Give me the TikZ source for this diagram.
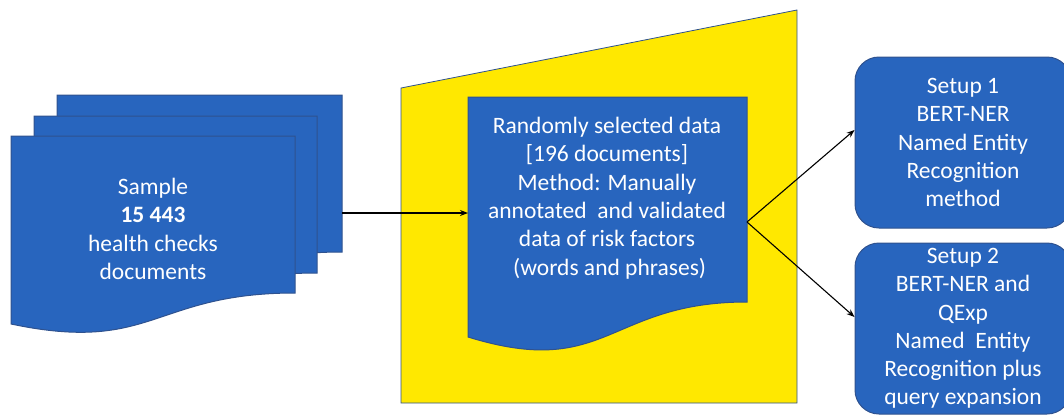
\documentclass[tikz,border=0pt]{standalone}
\usepackage{fontspec}
\setmainfont{Carlito}
\usetikzlibrary{arrows.meta}
\definecolor{docblue}{RGB}{40,101,190}
\definecolor{edgeblue}{RGB}{47,82,143}
\definecolor{ylw}{RGB}{255,232,0}
\begin{document}
\begin{tikzpicture}[x=1pt,y=-1pt,
  docfill/.style={fill=docblue,draw=edgeblue,line width=1pt},
  txt/.style={text=white,align=center,font=\fontsize{23.5}{28.3}\selectfont,inner sep=0pt},
  setupbox/.style={docfill,rounded corners=24pt,minimum width=216pt,minimum height=171pt,text=white,align=center,font=\fontsize{23.5}{28.3}\selectfont,inner sep=0pt},
  conn/.style={-{Stealth[length=8pt,width=6pt]},line width=1.1pt,black}]
\useasboundingbox (0,0) rectangle (1064,416);
\clip (0,0) rectangle (1064,416);
% stack of documents
\draw[docfill] (57,95) -- (342,95) -- (342,252) .. controls (199.5,252) and (199.5,313) .. (57,283) -- cycle;
\draw[docfill] (34,116) -- (317,116) -- (317,273) .. controls (175.5,273) and (175.5,334) .. (34,304) -- cycle;
\draw[docfill] (11,136) -- (295,136) -- (295,293) .. controls (153,293) and (153,354) .. (11,324) -- cycle;
\node[txt] (sampletxt) at (153,229) {Sample\\\textbf{15 443}\\health checks\\documents};
% yellow panel
\draw[fill=ylw,draw=edgeblue,line width=0.8pt] (401,88) -- (797,10) -- (797,403) -- (401,403) -- cycle;
% middle document
\draw[docfill] (468,97) -- (747,97) -- (747,302) .. controls (607.5,302) and (607.5,380) .. (468,337) -- cycle;
\node[txt] (randtxt) at (607,198) {Randomly selected data\\{[}196 documents{]}\\Method: Manually\\annotated\ \ and validated\\data of risk factors\\\ (words and phrases)};
% setup boxes
\node[setupbox] (s1) at (963,142.5) {Setup 1\\BERT-NER\\Named Entity\\Recognition\\method};
\node[setupbox] (s2) at (963,328.5) {Setup 2\\BERT-NER and\\QExp\\Named\ \ Entity\\Recognition plus\\query expansion};
% connectors
\coordinate (stackR) at (342,213);
\coordinate (randL) at (468,213);
\coordinate (randR) at (747,222);
\draw[conn] (stackR) -- (randL);
\draw[conn] (randR) -- ([yshift=12.5pt]s1.west);
\draw[conn] (randR) -- ([yshift=11.5pt]s2.west);
\end{tikzpicture}
\end{document}
